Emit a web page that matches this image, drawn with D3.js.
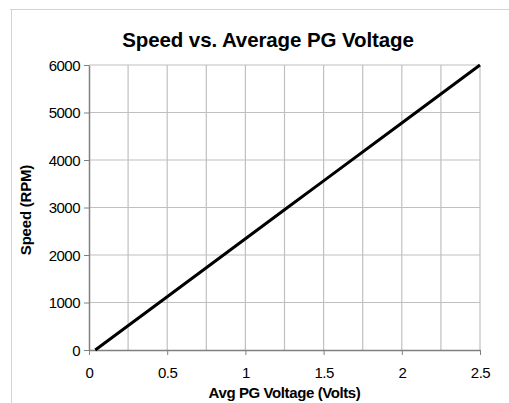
<!DOCTYPE html>
<html><head><meta charset="utf-8">
<script src="https://d3js.org/d3.v7.min.js"></script>
<style>body{margin:0;background:#fff;}svg{display:block;font-family:"Liberation Sans",Arial,sans-serif;}</style>
</head><body>
<script>
const voltage = [0.04, 0.5, 1.0, 1.25, 1.5, 2.0, 2.5];
const speed   = [0, 1122, 2341, 2951, 3561, 4780, 6000];
const xTicks = [0, 0.5, 1, 1.5, 2, 2.5];
const xGrid = [0.25, 0.5, 0.75, 1, 1.25, 1.5, 1.75, 2, 2.25, 2.5];
const yTicks = [0, 1000, 2000, 3000, 4000, 5000, 6000];
const title = "Speed vs. Average PG Voltage";
const xTitle = "Avg PG Voltage (Volts)";
const yTitle = "Speed (RPM)";

const W = 509, H = 403;
const L = 89, R = 480, T = 65, B = 350;
const svg = d3.select("body").append("svg").attr("width", W).attr("height", H);

// outer frame
svg.append("line").attr("x1",10).attr("x2",W).attr("y1",9.5).attr("y2",9.5).attr("stroke","#d4d4d4");
svg.append("line").attr("x1",11.5).attr("x2",11.5).attr("y1",9).attr("y2",H).attr("stroke","#d4d4d4");

const x = d3.scaleLinear().domain([0,2.5]).range([L,R]);
const y = d3.scaleLinear().domain([0,6000]).range([B,T]);

// grid
svg.append("g").selectAll("line").data(xGrid).join("line")
  .attr("x1",d=>x(d)).attr("x2",d=>x(d)).attr("y1",T).attr("y2",B)
  .attr("stroke","#c0c0c0").attr("stroke-width",1.2);
svg.append("g").selectAll("line").data(yTicks.slice(1)).join("line")
  .attr("x1",L).attr("x2",R).attr("y1",d=>y(d)).attr("y2",d=>y(d))
  .attr("stroke","#c0c0c0").attr("stroke-width",1.2);

// axes
const xa = svg.append("g").attr("transform",`translate(0,${B})`)
  .call(d3.axisBottom(x).tickValues(xTicks).tickSize(5).tickSizeOuter(0).tickFormat(d=>String(d)));
const ya = svg.append("g").attr("transform",`translate(${L},0)`)
  .call(d3.axisLeft(y).tickValues(yTicks).tickSize(5).tickSizeOuter(0).tickFormat(d=>String(d)));
[xa,ya].forEach(a=>{
  a.select(".domain").attr("stroke","#808080").attr("stroke-width",1.5);
  a.selectAll(".tick line").attr("stroke","#808080");
  a.selectAll("text").attr("font-size",15).attr("fill","#000").attr("letter-spacing","-0.5")
   .attr("font-family","Liberation Sans, Arial, sans-serif");
});
xa.selectAll("text").attr("y",0).attr("dy",0).attr("transform","translate(0,28)");
ya.selectAll("text").attr("x",-9).attr("dy","0.36em");

// line
svg.append("path")
  .datum(voltage.map((v,i)=>[v,speed[i]]))
  .attr("fill","none").attr("stroke","#000").attr("stroke-width",3)
  .attr("d", d3.line().x(d=>x(d[0])).y(d=>y(d[1])));

// titles
svg.append("text").attr("x",268).attr("y",47.3).attr("text-anchor","middle")
  .attr("font-size",20.5).attr("font-weight","bold").attr("letter-spacing","-0.1").text(title);
svg.append("text").attr("x",284.5).attr("y",398).attr("text-anchor","middle")
  .attr("font-size",15).attr("font-weight","bold").attr("letter-spacing","-0.4").text(xTitle);
svg.append("text").attr("transform","translate(31,210) rotate(-90)").attr("text-anchor","middle")
  .attr("font-size",15).attr("font-weight","bold").attr("letter-spacing","-0.2").text(yTitle);
</script>
</body></html>
